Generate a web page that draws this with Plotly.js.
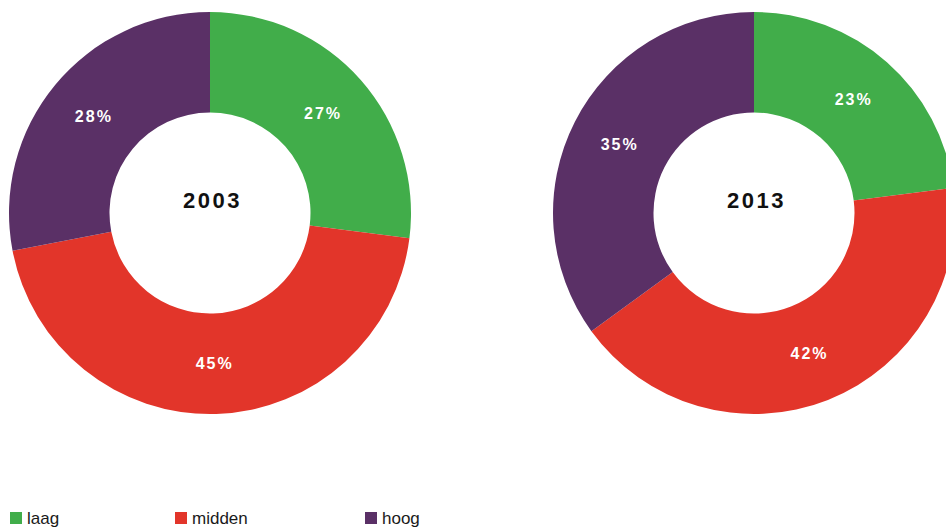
<!DOCTYPE html>
<html>
<head>
<meta charset="utf-8">
<script src="https://cdn.plot.ly/plotly-3.0.1.min.js"></script>
<style>
html,body{margin:0;padding:0;overflow:hidden;background:#fff;width:946px;height:528px;}
#chart{width:960px;height:528px;}
#chart text.slicetext{letter-spacing:2px;}
</style>
</head>
<body>
<div id="chart"></div>
<script>
// Data
const categories = ['laag', 'midden', 'hoog'];
const years = ['2003', '2013'];
const values2003 = [27, 45, 28];
const values2013 = [23, 42, 35];

// Styles
const colors = ['#41ad4a', '#e2352a', '#5a3066'];
const W = 960, H = 528;
const mT = 12, mB = 114;
const plotH = H - mT - mB;
const pieX = [[9, 411], [553, 955]];

function pie(vals, x0, x1) {
  return {
    type: 'pie',
    labels: categories,
    values: vals,
    sort: false,
    direction: 'clockwise',
    rotation: 0,
    hole: 0.5,
    domain: {x: [x0 / W, x1 / W], y: [0, 1]},
    marker: {colors: colors, line: {width: 0}},
    texttemplate: '%{value}%',
    textposition: 'inside',
    insidetextorientation: 'horizontal',
    textfont: {family: 'Liberation Sans, Arial, sans-serif', size: 16, color: '#ffffff', weight: 'bold'},
    showlegend: false,
    hoverinfo: 'label+percent'
  };
}

const data = [
  pie(values2003, pieX[0][0], pieX[0][1]),
  pie(values2013, pieX[1][0], pieX[1][1])
];

const py = p => (H - mB - p) / plotH;
const shapes = [], annotations = [];

// year labels in the holes
years.forEach((y, i) => {
  annotations.push({xref: 'paper', yref: 'paper',
    x: (pieX[i][0] + pieX[i][1]) / 2 / W + 2 / W, y: py(200),
    xanchor: 'center', yanchor: 'middle', showarrow: false,
    text: '<b>' + y + '</b>',
    font: {family: 'Liberation Sans, Arial, sans-serif', size: 22, color: '#111111'}});
});

// custom legend
const legendX = [10, 175, 365];
const legendY = 518;
categories.forEach((c, i) => {
  shapes.push({type: 'rect', xref: 'paper', yref: 'paper',
    x0: legendX[i] / W, x1: (legendX[i] + 12) / W,
    y0: py(legendY + 6), y1: py(legendY - 6),
    fillcolor: colors[i], line: {width: 0}});
  annotations.push({xref: 'paper', yref: 'paper', x: (legendX[i] + 15) / W, y: py(legendY),
    xanchor: 'left', yanchor: 'middle', showarrow: false, text: c,
    font: {family: 'Liberation Sans, Arial, sans-serif', size: 17, color: '#1a1a1a'}});
});

const layout = {
  width: W, height: H,
  margin: {l: 0, r: 0, t: mT, b: mB, pad: 0},
  paper_bgcolor: '#ffffff',
  plot_bgcolor: '#ffffff',
  showlegend: false,
  shapes: shapes,
  annotations: annotations
};

Plotly.newPlot('chart', data, layout, {displayModeBar: false, staticPlot: true}).then(() => {
  // widen the year labels like the original
  document.querySelectorAll('#chart .annotation-text').forEach((t, i) => {
    if (i < years.length) t.style.letterSpacing = '2.5px';
  });
});
</script>
</body>
</html>
